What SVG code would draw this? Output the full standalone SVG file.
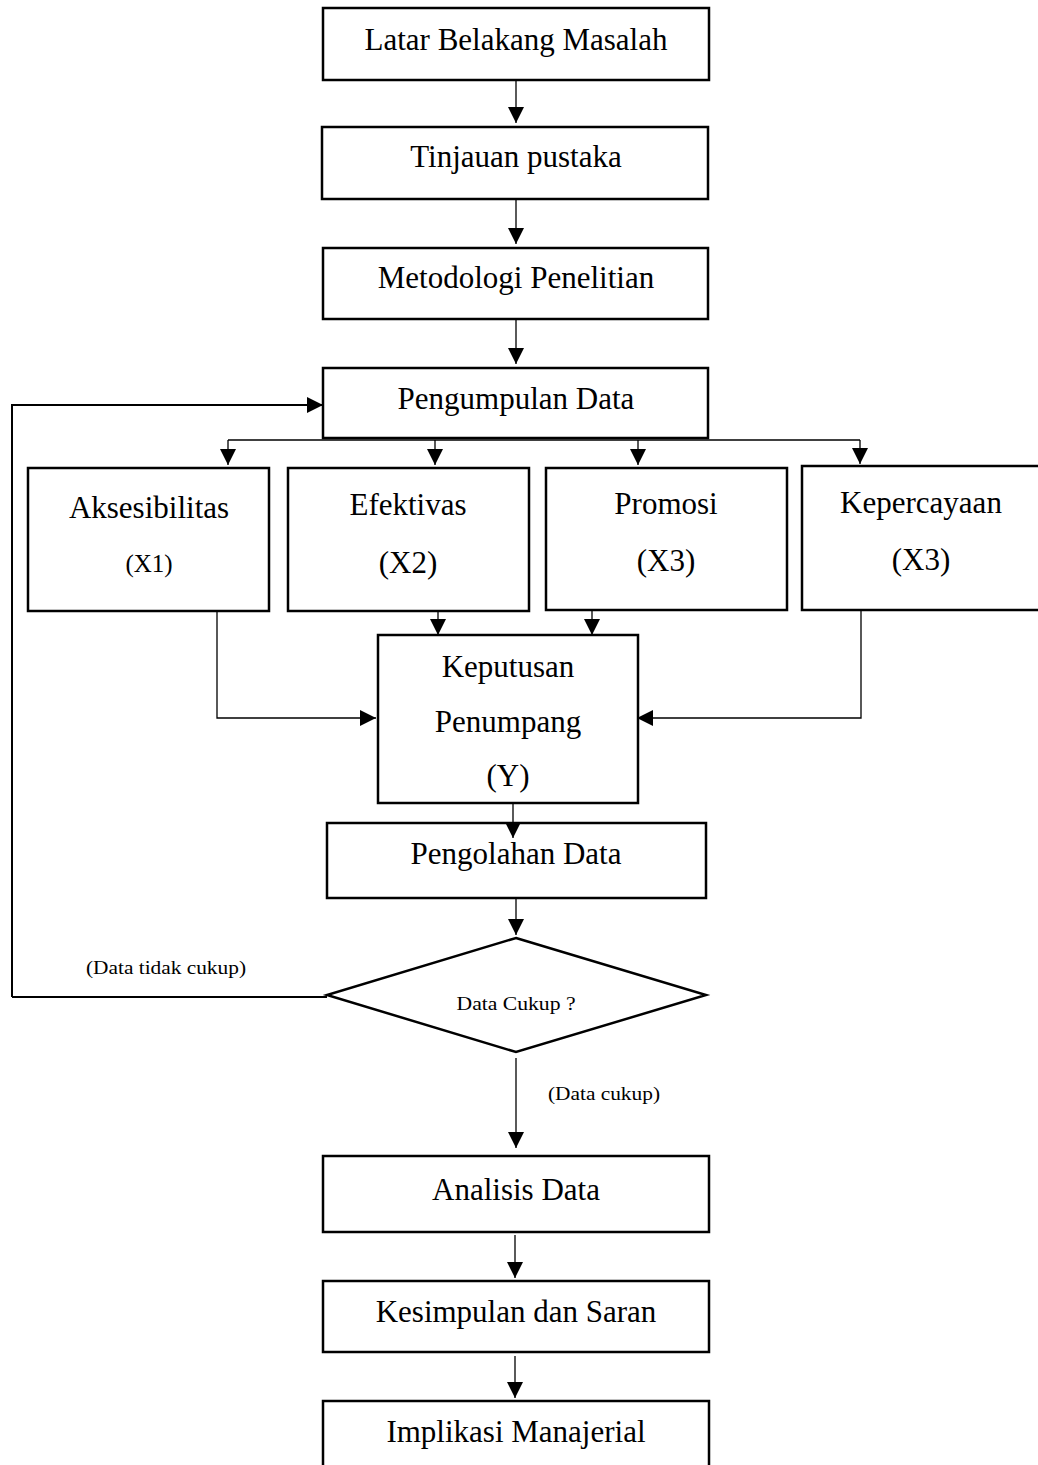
<svg xmlns="http://www.w3.org/2000/svg" width="1038" height="1465" viewBox="0 0 1038 1465">
<style>
.box{fill:#fff;stroke:#000;stroke-width:2.5}
.t{font-family:"Liberation Serif","Times New Roman",serif;font-size:31px;text-anchor:middle;fill:#000}
.s{font-family:"Liberation Serif","Times New Roman",serif;font-size:19px;text-anchor:middle;fill:#000}
.ln{fill:none;stroke:#000;stroke-width:1.3}
.lt{fill:none;stroke:#000;stroke-width:2}
</style>
<defs>
<marker id="ah" viewBox="0 0 16 16" refX="16" refY="8" markerWidth="16" markerHeight="16" markerUnits="userSpaceOnUse" orient="auto">
<path d="M0,0 L16,8 L0,16 Z" fill="#000"/>
</marker>
</defs>
<g id="n1"><rect class="box" x="323" y="8" width="386" height="72"/><text class="t" x="516" y="50">Latar Belakang Masalah</text></g>
<g id="n2"><rect class="box" x="322" y="127" width="386" height="72"/><text class="t" x="516" y="167">Tinjauan pustaka</text></g>
<g id="n3"><rect class="box" x="323" y="248" width="385" height="71"/><text class="t" x="516" y="288">Metodologi Penelitian</text></g>
<g id="n4"><rect class="box" x="323" y="368" width="385" height="70"/><text class="t" x="516" y="409">Pengumpulan Data</text></g>
<g id="n5"><rect class="box" x="28" y="468" width="241" height="143"/><text class="t" x="149" y="518">Aksesibilitas</text><text class="t" x="149" y="572" style="font-size:25px">(X1)</text></g>
<g id="n6"><rect class="box" x="288" y="468" width="241" height="143"/><text class="t" x="408" y="515">Efektivas</text><text class="t" x="408" y="573">(X2)</text></g>
<g id="n7"><rect class="box" x="546" y="468" width="241" height="142"/><text class="t" x="666" y="514">Promosi</text><text class="t" x="666" y="571">(X3)</text></g>
<g id="n8"><rect class="box" x="802" y="466" width="250" height="144"/><text class="t" x="921" y="513">Kepercayaan</text><text class="t" x="921" y="570">(X3)</text></g>
<g id="n9"><rect class="box" x="378" y="635" width="260" height="168"/><text class="t" x="508" y="677">Keputusan</text><text class="t" x="508" y="732">Penumpang</text><text class="t" x="508" y="786">(Y)</text></g>
<g id="n10"><rect class="box" x="327" y="823" width="379" height="75"/><text class="t" x="516" y="864">Pengolahan Data</text></g>
<g id="n11"><polygon class="box" points="516,938 706,995 516,1052 327,995"/><text class="s" x="516" y="1010" textLength="119" lengthAdjust="spacingAndGlyphs">Data Cukup ?</text></g>
<g id="l1"><text class="s" x="166" y="974" textLength="160" lengthAdjust="spacingAndGlyphs">(Data tidak cukup)</text></g>
<g id="l2"><text class="s" x="604" y="1100" textLength="112" lengthAdjust="spacingAndGlyphs">(Data cukup)</text></g>
<g id="n12"><rect class="box" x="323" y="1156" width="386" height="76"/><text class="t" x="516" y="1200">Analisis Data</text></g>
<g id="n13"><rect class="box" x="323" y="1281" width="386" height="71"/><text class="t" x="516" y="1322">Kesimpulan dan Saran</text></g>
<g id="n14"><rect class="box" x="323" y="1401" width="386" height="80"/><text class="t" x="516" y="1442">Implikasi Manajerial</text></g>
<g id="connectors">
<line class="ln" x1="516" y1="80" x2="516" y2="123" marker-end="url(#ah)"/>
<line class="ln" x1="516" y1="199" x2="516" y2="244" marker-end="url(#ah)"/>
<line class="ln" x1="516" y1="319" x2="516" y2="364" marker-end="url(#ah)"/>
<polyline class="lt" points="12,997 12,405 323,405" marker-end="url(#ah)"/>
<line class="lt" x1="12" y1="997" x2="327" y2="997"/>
<line class="ln" x1="228" y1="440" x2="860" y2="440"/>
<line class="ln" x1="228" y1="440" x2="228" y2="465" marker-end="url(#ah)"/>
<line class="ln" x1="435" y1="440" x2="435" y2="465" marker-end="url(#ah)"/>
<line class="ln" x1="638" y1="440" x2="638" y2="465" marker-end="url(#ah)"/>
<line class="ln" x1="860" y1="440" x2="860" y2="464" marker-end="url(#ah)"/>
<line class="ln" x1="438" y1="611" x2="438" y2="635" marker-end="url(#ah)"/>
<line class="ln" x1="592" y1="610" x2="592" y2="635" marker-end="url(#ah)"/>
<polyline class="ln" points="217,611 217,718 376,718" marker-end="url(#ah)"/>
<polyline class="ln" points="861,610 861,718 637,718" marker-end="url(#ah)"/>
<line class="ln" x1="513" y1="804" x2="513" y2="838" marker-end="url(#ah)"/>
<line class="ln" x1="516" y1="898" x2="516" y2="935" marker-end="url(#ah)"/>
<line class="ln" x1="516" y1="1058" x2="516" y2="1148" marker-end="url(#ah)"/>
<line class="ln" x1="515" y1="1235" x2="515" y2="1278" marker-end="url(#ah)"/>
<line class="ln" x1="515" y1="1356" x2="515" y2="1398" marker-end="url(#ah)"/>
</g>
</svg>
